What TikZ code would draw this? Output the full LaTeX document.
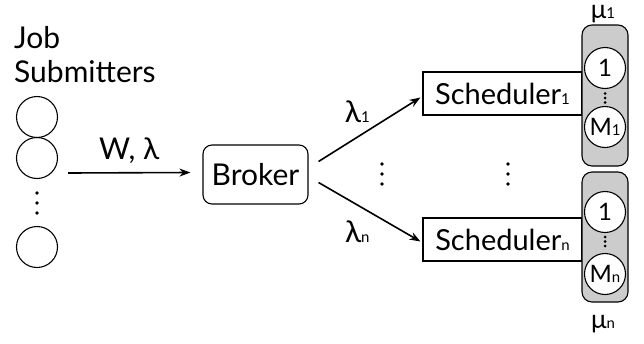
\documentclass[tikz,border=0pt]{standalone}
\usepackage{fontspec}
\setmainfont{Lato}
\usetikzlibrary{arrows.meta}
\newcommand{\smallsub}[1]{{\fontsize{15}{15}\selectfont #1}}
\begin{document}
\begin{tikzpicture}[x=1pt,y=-1pt,
  lbl/.style={font=\fontsize{30}{32}\selectfont, inner sep=0pt},
  mulbl/.style={font=\fontsize{26}{28}\selectfont, inner sep=0pt},
  src/.style={circle, draw, line width=1.1pt, minimum size=41pt, inner sep=0pt},
  srv/.style={circle, draw, fill=white, line width=1.1pt, minimum size=41pt, inner sep=0pt,
              font=\fontsize{24}{24}\selectfont},
  broker/.style={draw, rounded corners=9pt, line width=1.1pt, minimum width=105pt,
                 minimum height=59pt, font=\fontsize{30}{32}\selectfont},
  sched/.style={draw, line width=1.1pt, minimum width=159pt, minimum height=43pt,
                font=\fontsize{29}{32}\selectfont},
  pool/.style={draw, fill=gray!40, rounded corners=10pt, line width=1.1pt,
               minimum width=46pt},
  flow/.style={-{Stealth[length=11pt,width=8pt]}, line width=1.6pt},
  dot/.style={fill=black}]
\useasboundingbox (0,0) rectangle (644,343);

% job submitters
\node[lbl, anchor=base west] (jobA) at (14,48) {Job};
\node[lbl, anchor=base west] (jobB) at (14,82) {Submitters};
\node[src] (c1) at (37,117) {};
\node[src] (c2) at (37,158) {};
\node[src] (c3) at (37,247) {};
\foreach \y in {193,203,213} \fill[dot] (37,\y) circle (1.8);

% broker
\node[broker] (broker) at (255.5,174.5) {Broker};
\draw[flow] ([xshift=10pt,yshift=-15pt]c2.east) -- ([xshift=-12pt,yshift=2pt]broker.west)
  node[lbl, midway, above=8pt] {W, λ};

% schedulers
\node[sched] (s1) at (502.5,93.5) {Scheduler\smallsub{1}};
\node[sched] (sn) at (502.5,239.5) {Scheduler\smallsub{n}};
\foreach \y in {164,174,184} {
  \fill[dot] (382,\y) circle (1.8);
  \fill[dot] (508,\y) circle (1.8);
}
\draw[flow] ([xshift=10pt,yshift=13pt]broker.east) -- ([xshift=-2pt,yshift=-4pt]s1.west)
  node[lbl, pos=0.38, above=14pt] {λ\smallsub{1}};
\draw[flow] ([xshift=10pt,yshift=-8pt]broker.east) -- ([xshift=-2pt,yshift=-2pt]sn.west)
  node[lbl, pos=0.38, below=15pt] {λ\smallsub{n}};

% machine pools
\node[pool, minimum height=141pt] (p1) at (605,95.5) {};
\node[pool, minimum height=130pt] (pn) at (605,237) {};
\node[srv] (m11) at (605,68) {1};
\node[srv] (m1m) at (605,127) {M\smallsub{1}};
\node[srv] (mn1) at (605,212) {1};
\node[srv] (mnm) at (605,274) {M\smallsub{n}};
\foreach \y in {93.5,98,102.5} \fill[dot] (605,\y) circle (1.5);
\foreach \y in {237,241.5,246} \fill[dot] (605,\y) circle (1.5);
\node[mulbl, anchor=base] (mu1) at (603,18) {μ\smallsub{1}};
\node[mulbl, anchor=base] (mun) at (603,328) {μ\smallsub{n}};
\end{tikzpicture}
\end{document}
